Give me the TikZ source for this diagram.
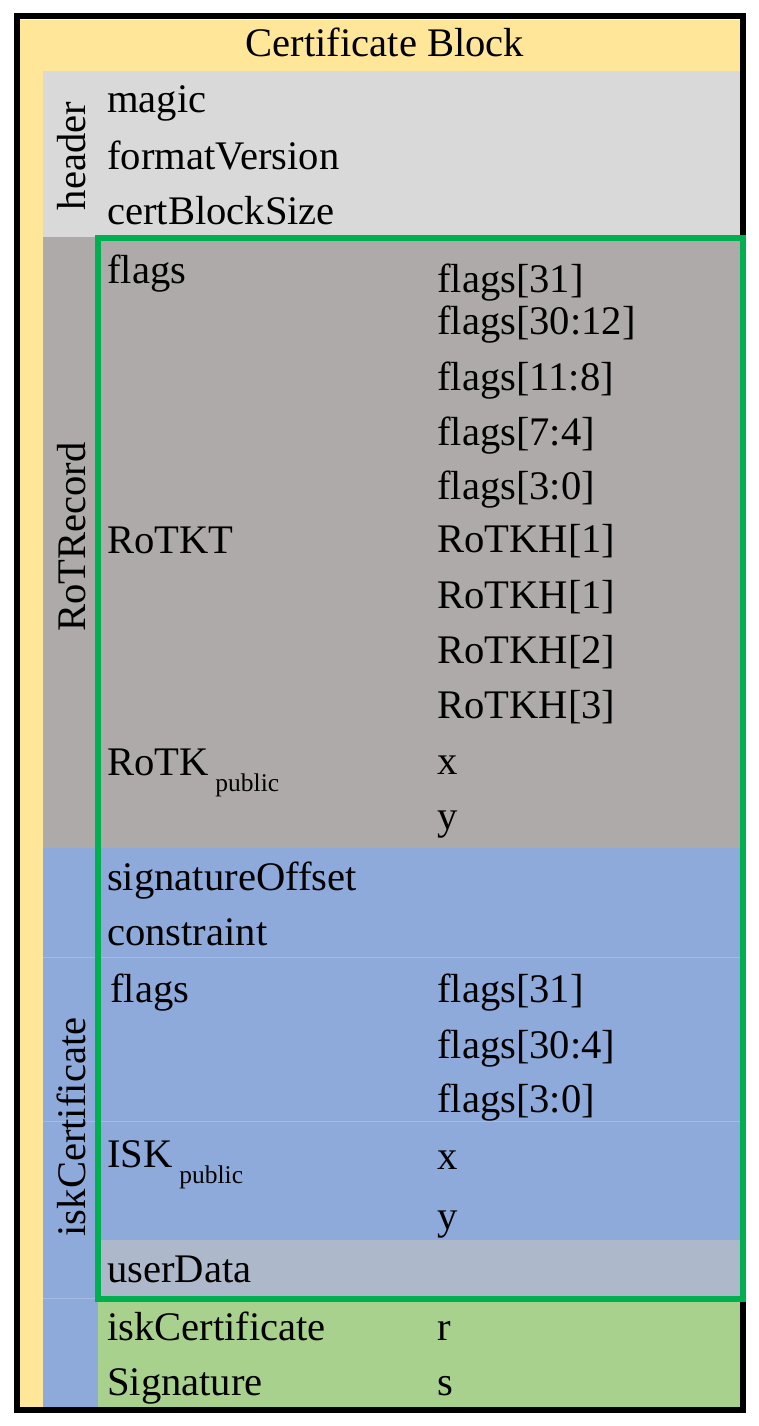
\documentclass[tikz,border=0pt]{standalone}
\usepackage{fontspec}
\setmainfont{Liberation Serif}
\definecolor{BlockYellow}{HTML}{FFE699}
\definecolor{HeadGray}{HTML}{D9D9D9}
\definecolor{RotGray}{HTML}{AEAAAA}
\definecolor{IskBlue}{HTML}{8EAADB}
\definecolor{UserGray}{HTML}{ADB9CA}
\definecolor{SigGreen}{HTML}{A9D18E}
\definecolor{SignedGreen}{HTML}{00B050}
\newcommand{\fieldfont}{\fontsize{40.6}{48}\selectfont}
\newcommand{\pubsub}[1]{#1\,\raisebox{-16pt}{\fontsize{25.5}{30}\selectfont public}}
\tikzstyle{field} = [anchor=base west, inner sep=0pt, yshift=-2pt, font=\fieldfont]
\tikzstyle{part} = [anchor=base, inner sep=0pt, rotate=90, font=\fieldfont]
\tikzstyle{rowline} = [white, opacity=0.2, line width=1pt]
\tikzstyle{frame} = [line width=6pt]

\begin{document}
\begin{tikzpicture}[x=1pt, y=-1pt]

\useasboundingbox (0,0) rectangle (759,1426);

% background bands
\fill [BlockYellow] (20,20) rectangle (740,1407);
\fill [HeadGray] (43,71) rectangle (740,237);
\fill [RotGray] (43,237) rectangle (740,848);
\fill [IskBlue] (43,848) rectangle (740,1407);
\fill [UserGray] (98,1240) rectangle (740,1298);
\fill [SigGreen] (98,1298) rectangle (740,1407);

\draw [rowline] (43,957) -- (740,957);
\draw [rowline] (43,1121) -- (740,1121);
\draw [rowline] (43,1298) -- (98,1298);

\draw [frame, black] (16.5,16.5) rectangle (743,1410);
\draw [frame, SignedGreen] (98,237.5) rectangle (743,1298.5);

\node (title) [anchor=base, inner sep=0pt, font=\fieldfont] at (385,57) {Certificate Block};

% header
\node (header) [part] at (85,156) {header};
\node (magic) [field] at (107,111) {magic};
\node (formatVersion) [field] at (107,167) {formatVersion};
\node (certBlockSize) [field] at (107,222) {certBlockSize};

% RoTRecord
\node (rotRecord) [part] at (85,537) {RoTRecord};
\node (rotFlags) [field] at (107,281) {flags};
\node (rotKT) [field] at (107,551) {RoTKT};
\node (rotKpub) [field] at (107,773) {\pubsub{RoTK}};

\node (rotF31) [field] at (437,290) {flags[31]};
\node (rotF3012) [field] at (437,332) {flags[30:12]};
\node (rotF118) [field] at (437,388) {flags[11:8]};
\node (rotF74) [field] at (437,443) {flags[7:4]};
\node (rotF30) [field] at (437,497) {flags[3:0]};
\node (rotKHa) [field] at (437,550) {RoTKH[1]};
\node (rotKHb) [field] at (437,606) {RoTKH[1]};
\node (rotKHc) [field] at (437,661) {RoTKH[2]};
\node (rotKHd) [field] at (437,716) {RoTKH[3]};
\node (rotX) [field] at (437,772) {x};
\node (rotY) [field] at (437,827) {y};

% iskCertificate
\node (iskCert) [part] at (85,1127) {iskCertificate};
\node (sigOffset) [field] at (107,888) {signatureOffset};
\node (constraint) [field] at (107,943) {constraint};
\node (iskFlags) [field] at (110,1000) {flags};
\node (iskKpub) [field] at (107,1165) {\pubsub{ISK}};
\node (userData) [field] at (107,1280) {userData};

\node (iskF31) [field] at (437,1000) {flags[31]};
\node (iskF304) [field] at (437,1056) {flags[30:4]};
\node (iskF30) [field] at (437,1110) {flags[3:0]};
\node (iskX) [field] at (437,1167) {x};
\node (iskY) [field] at (437,1227) {y};

% signature
\node (sigName) [field] at (107,1338) {iskCertificate};
\node (sigWord) [field] at (107,1393) {Signature};
\node (sigR) [field] at (437,1338) {r};
\node (sigS) [field] at (437,1393) {s};

\end{tikzpicture}
\end{document}
